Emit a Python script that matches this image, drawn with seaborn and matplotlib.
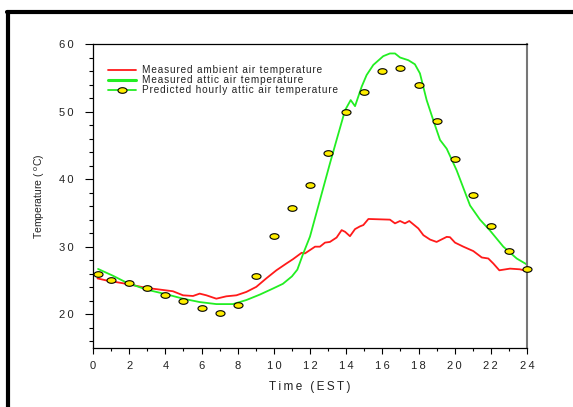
import numpy as np
import pandas as pd
import matplotlib
matplotlib.use("Agg")
import matplotlib.pyplot as plt
from matplotlib.lines import Line2D
from matplotlib.path import Path
import seaborn as sns

# ---------------- data ----------------
ambient_time = [0.25, 0.74, 1.84, 2.95, 3.69, 4.42, 4.98, 5.53, 5.9, 6.27, 6.82, 7.37, 7.93,
                8.48, 9.03, 9.58, 10.14, 10.69, 11.06, 11.54, 11.72, 12.28, 12.55, 12.83,
                13.1, 13.47, 13.75, 13.94, 14.21, 14.49, 14.76, 14.95, 15.23, 16.42, 16.7,
                16.98, 17.25, 17.49, 17.99, 18.27, 18.64, 19.0, 19.56, 19.74, 20.02, 20.48,
                21.03, 21.5, 21.86, 22.14, 22.47, 23.06, 23.6, 24.0]
ambient_temp = [25.3, 25.0, 24.5, 23.9, 23.65, 23.4, 22.8, 22.7, 23.05, 22.8, 22.3, 22.65, 22.8,
                23.3, 24.05, 25.3, 26.5, 27.5, 28.15, 29.1, 29.0, 30.0, 30.0, 30.6,
                30.7, 31.35, 32.45, 32.2, 31.55, 32.6, 33.0, 33.2, 34.1, 34.0, 33.45,
                33.8, 33.45, 33.8, 32.7, 31.7, 31.05, 30.7, 31.45, 31.4, 30.6, 30.0,
                29.35, 28.4, 28.25, 27.5, 26.5, 26.75, 26.65, 26.4]

attic_time = [0.28, 1.1, 1.84, 2.95, 4.05, 4.98, 5.9, 6.82, 7.74, 8.48, 9.22, 9.95, 10.5,
              11.0, 11.3, 11.6, 12.0, 12.55, 13.1, 13.47, 13.94, 14.25, 14.49, 14.86,
              15.13, 15.5, 16.05, 16.42, 16.7, 16.98, 17.44, 17.8, 18.08, 18.45, 18.82,
              19.19, 19.56, 20.11, 20.85, 21.4, 21.95, 22.69, 23.43, 24.0]
attic_temp = [26.7, 25.7, 24.7, 23.65, 22.96, 22.3, 21.8, 21.5, 21.5, 22.1, 22.9, 23.8, 24.5,
              25.6, 26.6, 28.8, 31.5, 36.9, 42.3, 45.8, 50.2, 51.7, 50.8, 53.7,
              55.4, 56.9, 58.2, 58.6, 58.6, 58.0, 57.6, 57.0, 55.65, 51.7, 48.7,
              45.8, 44.5, 41.3, 36.1, 34.0, 32.4, 30.0, 28.25, 27.35]

pred_time = [0.25, 1, 2, 3, 4, 5, 6, 7, 8, 9, 10, 11, 12, 13, 14, 15, 16, 17, 18, 19, 20,
             21, 22, 23, 24]
pred_temp = [25.9, 25.1, 24.6, 23.95, 22.8, 22.0, 20.85, 20.2, 21.3, 25.6, 31.55, 35.65,
             39.1, 43.8, 49.95, 52.9, 56.05, 56.4, 53.9, 48.6, 42.95, 37.7, 33.1, 29.4, 26.7]

x_ticks = list(range(0, 25, 2))
y_ticks = [20, 30, 40, 50, 60]

label_ambient = "Measured ambient air temperature"
label_attic = "Measured attic air temperature"
label_pred = "Predicted hourly attic air temperature"

# ---------------- style ----------------
sns.set_theme(style="white")
plt.rcParams['font.family'] = ['Liberation Sans', 'DejaVu Sans']
plt.rcParams['mathtext.fontset'] = 'custom'
plt.rcParams['mathtext.rm'] = 'Liberation Sans'

HS = "\u200a"
TS = "\u2009"


def spaced(s, sep=HS):
    return sep.join(list(s))


fig = plt.figure(figsize=(5.73, 4.07), dpi=100)
ax = fig.add_axes([93 / 573, 1 - 348 / 407, 434 / 573, 304 / 407])

df_amb = pd.DataFrame({"t": ambient_time, "T": ambient_temp})
df_att = pd.DataFrame({"t": attic_time, "T": attic_temp})
df_pred = pd.DataFrame({"t": pred_time, "T": pred_temp})

red = "#ff1a1a"
green = "#22ee22"

sns.lineplot(data=df_amb, x="t", y="T", ax=ax, color=red, lw=1.3, sort=False,
             estimator=None, legend=False)
sns.lineplot(data=df_att, x="t", y="T", ax=ax, color=green, lw=1.3, sort=False,
             estimator=None, legend=False)

# elliptical marker
th = np.linspace(0, 2 * np.pi, 40)
ell = Path(np.column_stack([np.cos(th), 0.62 * np.sin(th)]), closed=True)

ax.plot(df_pred["t"], df_pred["T"], linestyle="none", marker=ell, markersize=6.5,
        markerfacecolor="#ffee00", markeredgecolor="black", markeredgewidth=0.8,
        clip_on=False, zorder=5)

ax.set_xlim(0, 24)
ax.set_ylim(15, 60)
ax.set_xticks(x_ticks)
ax.set_xticks(range(0, 25, 1), minor=True)
ax.set_yticks(y_ticks)
ax.set_yticks(range(16, 61, 2), minor=True)
ax.set_xticklabels([spaced(str(v), TS) for v in x_ticks])
ax.set_yticklabels([spaced(str(v), TS) for v in y_ticks])
ax.tick_params(axis="both", which="both", direction="out", width=0.8,
               color="black", labelsize=8, labelcolor="#222222",
               bottom=True, left=True)
ax.tick_params(axis="y", which="major", length=5.8, pad=8)
ax.tick_params(axis="y", which="minor", length=2.9)
ax.tick_params(axis="x", which="major", length=4.3, pad=5)
ax.tick_params(axis="x", which="minor", length=2.2)

for side in ["left", "top", "bottom"]:
    ax.spines[side].set_color("black")
    ax.spines[side].set_linewidth(0.9)
ax.spines["right"].set_color("#777777")
ax.spines["right"].set_linewidth(1.5)
ax.grid(False)

ax.set_xlabel(spaced("Time (EST)", TS), fontsize=8.5, color="#222222", labelpad=7)
ax.set_ylabel("Temperature ( $^{\\mathrm{o}}$C)", fontsize=7.5, color="#222222", labelpad=9)

handles = [
    Line2D([], [], color=red, lw=1.3),
    Line2D([], [], color=green, lw=2.2),
    Line2D([], [], color=green, lw=1.3, marker=ell, markersize=6.5,
           markerfacecolor="#ffee00", markeredgecolor="black", markeredgewidth=0.8),
]
leg = ax.legend(handles, [spaced(label_ambient), spaced(label_attic), spaced(label_pred)],
                loc="upper left", bbox_to_anchor=(15 / 434, 1 - 21 / 304),
                frameon=False, fontsize=7.2, handlelength=2.8, handletextpad=0.55,
                labelspacing=0.0, borderpad=0, borderaxespad=0)
for t in leg.get_texts():
    t.set_color("#222222")

# outer frame (left and top black lines)
fig.add_artist(Line2D([8 / 573, 8 / 573], [0, 1 - 12 / 407], color="black", lw=3,
                      transform=fig.transFigure))
fig.add_artist(Line2D([6.5 / 573, 1], [1 - 12 / 407, 1 - 12 / 407], color="black", lw=3,
                      transform=fig.transFigure))

fig.savefig("out.png", dpi=100)
